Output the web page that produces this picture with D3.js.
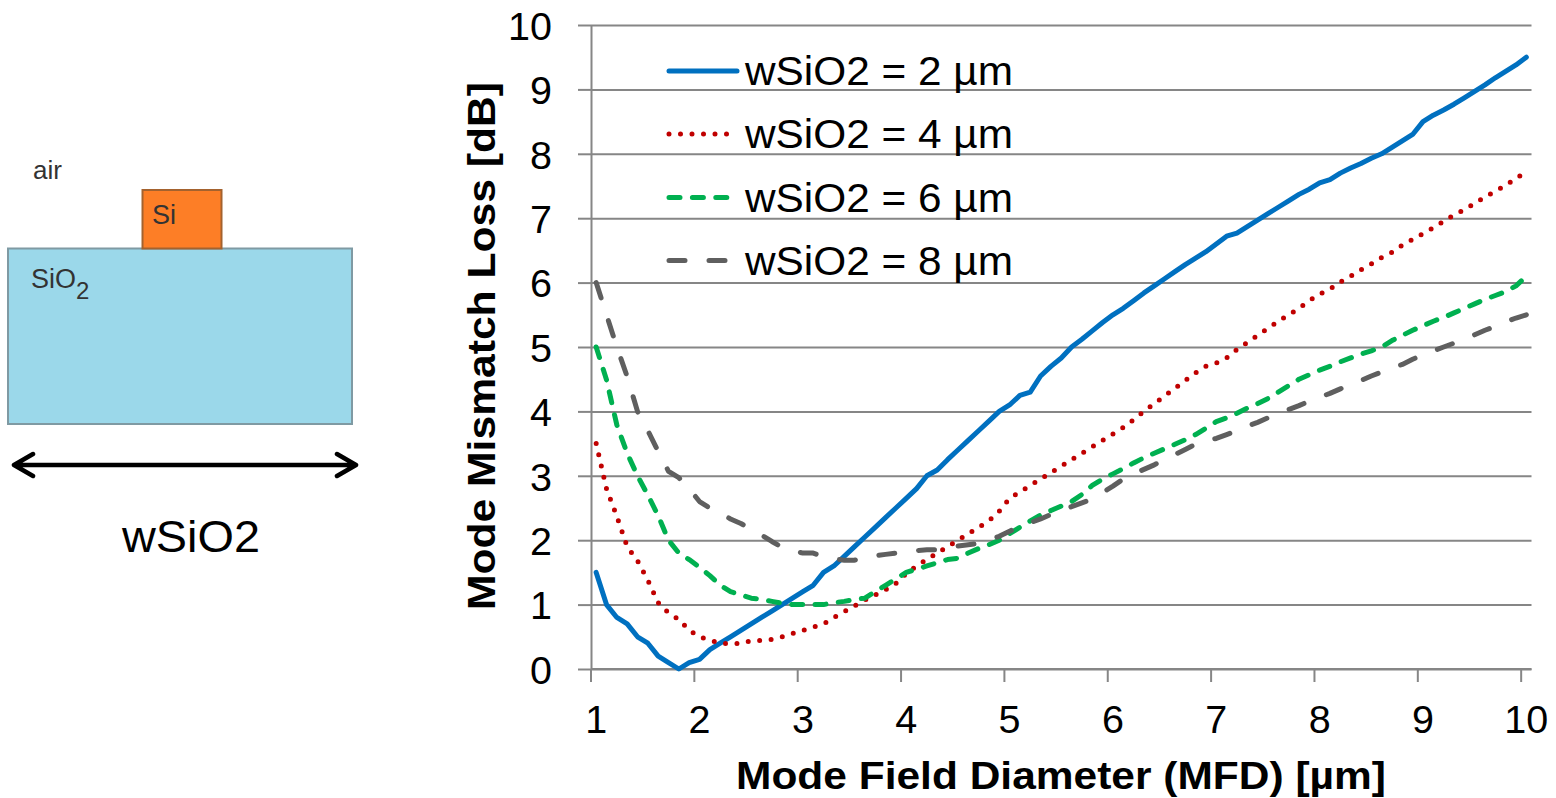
<!DOCTYPE html>
<html>
<head>
<meta charset="utf-8">
<title>Mode Mismatch Loss</title>
<script src="https://cdn.jsdelivr.net/npm/d3@7"></script>
<style>
body { margin: 0; background: #fff; }
text { font-family: 'Liberation Sans', Arial, sans-serif; fill: #000; }
.axis path, .axis line, .grid line { stroke: #868686; stroke-width: 2; }
.grid path { display: none; }
.axis text { font-size: 39.5px; }
.title { font-size: 39.5px; font-weight: bold; }
.series { fill: none; stroke-width: 5; stroke-linejoin: round; stroke-linecap: round; }
.legend-label { font-size: 40px; }
</style>
</head>
<body>
<svg id="chart" width="1556" height="798"></svg>
<script>
var mfd = [1,1.1,1.2,1.3,1.4,1.5,1.6,1.7,1.8,1.9,2,2.1,2.2,2.3,2.4,2.5,2.6,2.7,2.8,2.9,3,3.1,3.2,3.3,3.4,3.5,3.6,3.7,3.8,3.9,
    4,4.1,4.2,4.3,4.4,4.5,4.6,4.7,4.8,4.9,5,5.1,5.2,5.3,5.4,5.5,5.6,5.7,5.8,5.9,6,6.1,6.2,6.3,6.4,6.5,6.6,6.7,6.8,6.9,
    7,7.1,7.2,7.3,7.4,7.5,7.6,7.7,7.8,7.9,8,8.1,8.2,8.3,8.4,8.5,8.6,8.7,8.8,8.9,9,9.1,9.2,9.3,9.4,9.5,9.6,9.7,9.8,9.9,10];
var w2 = [1.5,1,0.8,0.7,0.5,0.4,0.2,0.1,0,0.1,0.15,0.3,0.4,0.5,0.6,0.7,0.8,0.9,1,1.1,1.2,1.3,1.5,1.6,1.75,1.9,2.05,2.2,2.35,2.5,
    2.65,2.8,3,3.09,3.25,3.4,3.55,3.7,3.85,4,4.1,4.25,4.3,4.55,4.7,4.83,5,5.12,5.25,5.38,5.5,5.6,5.72,5.84,5.95,6.06,6.17,6.28,6.38,6.48,
    6.6,6.72,6.77,6.87,6.97,7.07,7.17,7.27,7.37,7.45,7.55,7.6,7.7,7.78,7.85,7.93,8,8.1,8.2,8.3,8.5,8.6,8.68,8.77,8.87,8.97,9.07,9.18,9.28,9.38,9.5];
var w4 = [3.5,2.8,2.37,1.9,1.68,1.38,1.03,0.87,0.77,0.6,0.5,0.45,0.4,0.39,0.4,0.44,0.445,0.46,0.5,0.55,0.6,0.65,0.7,0.8,0.89,0.98,1.07,1.15,1.23,1.33,
    1.48,1.6,1.7,1.8,1.9,2,2.1,2.2,2.3,2.45,2.65,2.75,2.85,2.95,3.05,3.15,3.25,3.35,3.45,3.55,3.65,3.75,3.87,4,4.12,4.24,4.36,4.48,4.6,4.7,
    4.75,4.83,4.96,5.07,5.18,5.29,5.4,5.5,5.6,5.72,5.82,5.9,6.01,6.1,6.2,6.29,6.39,6.47,6.58,6.67,6.76,6.85,6.95,7.05,7.13,7.23,7.33,7.42,7.51,7.62,7.72];
var w6 = [5,4.49,3.79,3.35,3,2.7,2.38,2,1.8,1.7,1.58,1.45,1.3,1.2,1.15,1.1,1.08,1.05,1.02,1,1,1,1,1.03,1.05,1.08,1.1,1.2,1.3,1.4,
    1.5,1.55,1.6,1.65,1.7,1.72,1.8,1.87,1.93,2,2.1,2.2,2.3,2.39,2.46,2.53,2.6,2.71,2.85,2.95,3.03,3.11,3.2,3.28,3.35,3.42,3.49,3.56,3.64,3.74,
    3.84,3.9,3.97,4.05,4.12,4.2,4.3,4.4,4.5,4.57,4.64,4.7,4.77,4.83,4.89,4.94,5,5.1,5.18,5.26,5.33,5.4,5.46,5.53,5.6,5.67,5.74,5.8,5.86,5.95,6.1];
var w8 = [6,5.5,5,4.54,4,3.7,3.38,3.07,2.97,2.8,2.6,2.5,2.42,2.33,2.26,2.17,2.08,1.98,1.89,1.84,1.8,1.8,1.74,1.71,1.69,1.69,1.73,1.76,1.78,1.8,
    1.81,1.84,1.85,1.85,1.87,1.91,1.93,1.95,2,2.06,2.14,2.21,2.27,2.33,2.4,2.46,2.52,2.58,2.64,2.74,2.84,2.95,3.03,3.1,3.17,3.26,3.33,3.41,3.49,3.55,
    3.58,3.64,3.7,3.77,3.83,3.9,3.96,4.03,4.09,4.16,4.22,4.28,4.35,4.42,4.48,4.55,4.61,4.67,4.73,4.81,4.88,4.94,5,5.06,5.12,5.19,5.26,5.32,5.39,5.45,5.5];
var seriesNames = ["wSiO2 = 2 µm","wSiO2 = 4 µm","wSiO2 = 6 µm","wSiO2 = 8 µm"];
var seriesColors = ["#0070c0","#c00000","#00b050","#5f5f5f"];
var seriesDash = [null,"0 11.5","11 12.4","16 24"];
var xTicks = [1,2,3,4,5,6,7,8,9,10];
var yTicks = [0,1,2,3,4,5,6,7,8,9,10];

var svg = d3.select("#chart");
var x = d3.scaleBand().domain(mfd).range([591,1531.5]);
var y = d3.scaleLinear().domain([0,10]).range([669,25]);
var off = x.bandwidth()/2;

// gridlines, then axes on top
svg.append("g").attr("class","grid")
    .attr("transform","translate(591,0)")
    .call(d3.axisLeft(y).tickValues(yTicks).tickSize(-940.5).tickFormat(""));

var yAxis = svg.append("g").attr("class","axis")
    .attr("transform","translate(591,0)")
    .call(d3.axisLeft(y).tickValues(yTicks).tickSize(13).tickPadding(26).tickSizeOuter(0));
yAxis.selectAll("text").attr("dy","0.36em");

var xAxis = svg.append("g").attr("class","axis")
    .attr("transform","translate(0,669)")
    .call(d3.axisBottom(x).tickValues(xTicks).tickSize(13).tickPadding(23).tickSizeOuter(0));
// excel style: ticks sit between categories
xAxis.selectAll(".tick line").attr("x1",-off).attr("x2",-off);
xAxis.select(".domain").attr("d","M591,0H1531.5");

// the source image is a little stretched sideways, textLength gets the same widths
svg.append("text").attr("class","title").attr("text-anchor","middle")
    .attr("x",1061).attr("y",789)
    .attr("textLength",650).attr("lengthAdjust","spacingAndGlyphs")
    .text("Mode Field Diameter (MFD) [µm]");
svg.append("text").attr("class","title").attr("text-anchor","middle")
    .attr("transform","translate(495,346) rotate(-90)")
    .attr("textLength",528).attr("lengthAdjust","spacingAndGlyphs")
    .text("Mode Mismatch Loss [dB]");

var line = d3.line()
    .x(function(d,i){return x(mfd[i])+off;})
    .y(function(d){return y(d);});

[w2,w4,w6,w8].forEach(function(vals,i){
    svg.append("path").datum(vals).attr("class","series")
        .attr("d",line)
        .attr("stroke",seriesColors[i])
        .attr("stroke-dasharray",seriesDash[i]);
});

// legend
var legendY = [71,134,197.5,260.5];
var legend = svg.append("g").selectAll("g").data(seriesNames).enter().append("g")
    .attr("transform",function(d,i){return "translate(0,"+legendY[i]+")";});
legend.append("line")
    .attr("class","series")
    .attr("x1",669).attr("x2",function(d,i){return i==0?737:729;})
    .attr("y1",0).attr("y2",0)
    .attr("stroke",function(d,i){return seriesColors[i];})
    .attr("stroke-dasharray",function(d,i){return seriesDash[i];});
legend.append("text").attr("class","legend-label")
    .attr("x",745).attr("y",14)
    .attr("textLength",268).attr("lengthAdjust","spacingAndGlyphs")
    .text(function(d){return d;});

// cross section sketch on the left
var sketch = svg.append("g");
sketch.append("rect").attr("x",8).attr("y",248.5).attr("width",344).attr("height",175.5)
    .attr("fill","#9bd8ea").attr("stroke","#7f9aa3").attr("stroke-width",2);
sketch.append("rect").attr("x",142.5).attr("y",190).attr("width",79).attr("height",58.5)
    .attr("fill","#fd7e26").attr("stroke","#a4622e").attr("stroke-width",2);
sketch.append("text").attr("x",33).attr("y",179).attr("font-size",26).style("fill","#333").text("air");
sketch.append("text").attr("x",152).attr("y",224).attr("font-size",27).style("fill","#333").text("Si");
var sio = sketch.append("text").attr("x",31).attr("y",288).attr("font-size",27).style("fill","#333").text("SiO");
sio.append("tspan").attr("dy",11).attr("font-size",24).text("2");
sketch.append("path").attr("fill","none").attr("stroke","#000").attr("stroke-width",4.5).attr("stroke-linecap","round").attr("stroke-linejoin","round")
    .attr("d","M14,465H356M33,454L14,465L33,476M337,454L356,465L337,476");
sketch.append("text").attr("x",191).attr("y",552).attr("text-anchor","middle")
    .attr("font-size",44).attr("textLength",138).attr("lengthAdjust","spacingAndGlyphs").text("wSiO2");
</script>
</body>
</html>
